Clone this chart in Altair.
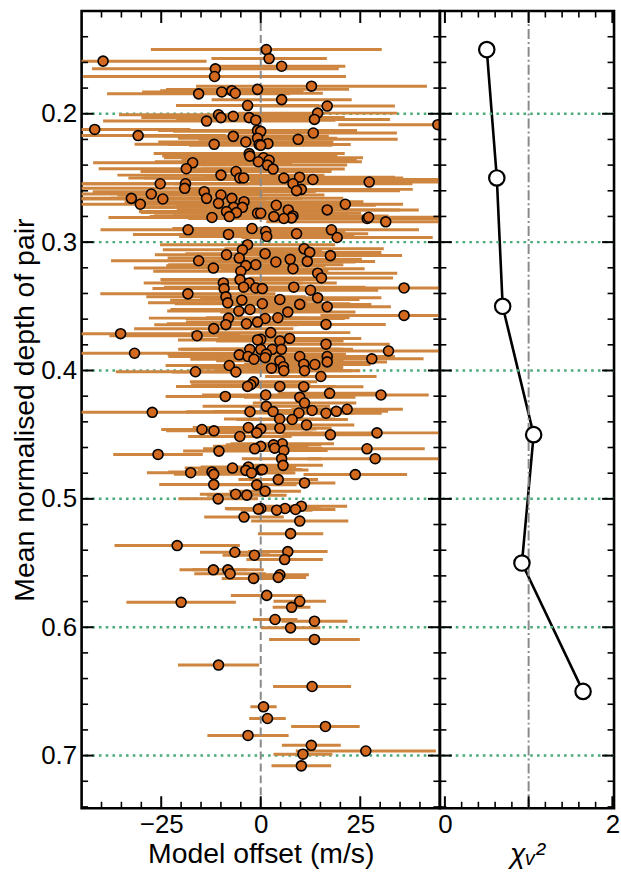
import altair as alt
import pandas as pd

# ---------------- data ----------------
offset = [
    1.4, 2.1, -39.6, 5.25, -11.4, -11.6, 12.75, -0.8, -9.8, -7.25,
    -6.4, -15.6, 5.25, -3.3, 16.7, 14.3, -10.6, -10.0, -6.9, -2.9,
    -1.25, 13.5, -13.6, 44.5, -41.7, 13.2, -0.8, 0.0, -30.8, -6.9,
    9.4, -0.8, -3.75, -11.7, -0.4, 1.8, 0.0, -2.9, -2.75, 0.7,
    2.1, -0.6, -17.1, 1.7, -18.7, 3.1, -6.2, -10.0, -5.25, -4.3,
    9.75, 5.8, 13.1, 27.25, -25.25, -18.9, 8.1, -19.1, 10.2, 9.0,
    -14.2, -27.5, -10.0, -32.5, -13.6, -7.25, -24.6, -4.2, -10.6, -30.25,
    21.25, 3.9, -6.8, -4.6, 16.7, 6.9, -8.6, -6.1, -0.8, 0.0,
    8.1, -7.9, 3.3, -12.25, 7.75, 26.75, 5.8, 27.1, 31.4, -2.2,
    -18.25, 17.75, 1.25, 9.0, -8.1, 1.5, 19.2, -3.3, 10.9, -4.6,
    12.3, 1.1, -8.6, 17.5, -5.4, 7.4, -15.6, 11.7, 3.8, -1.25,
    -3.75, -11.9, 8.1, -5.0, 14.3, 15.25, -5.2, -9.4, -2.9, 8.3,
    -4.3, 36.0, -1.25, 0.4, -9.2, 12.5, -18.3, -8.75, 14.3, 4.8,
    -4.75, -8.3, 0.4, 9.8, 16.7, -2.7, -5.5, 6.8, 36.0, 4.3,
    -8.1, 1.1, -0.8, -3.6, 16.4, -8.75, -11.8, 2.5, -35.2, -16.0,
    7.25, 0.0, -0.8, 4.8, 16.4, -2.75, 0.0, 2.9, 5.2, 32.1,
    -31.7, 1.4, -5.4, -3.2, 9.8, 16.7, 1.1, 27.9, -1.7, 4.8,
    16.7, 10.8, 13.6, -7.9, 5.7, 2.7, 5.8, 11.0, -16.4, -6.25,
    15.1, -1.8, -2.5, -3.3, 4.8, 10.8, 17.3, 1.25, 30.2, -8.9,
    9.8, 11.0, 1.4, 21.7, 3.1, -2.7, -27.25, 9.6, 12.9, 16.4,
    19.0, 4.75, 7.9, 11.5, -3.1, 4.8, 0.0, -14.75, -11.75, 29.2,
    -1.0, 17.5, -5.25, 5.4, 3.2, 0.0, 3.5, -1.5, 26.7, 5.8,
    -10.5, -25.8, 28.75, 5.25, 5.6, -3.1, 0.0, 0.4, -7.1, -3.75,
    -12.25, -17.6, -2.3, -11.8, 23.75, 4.4, 11.0, -11.8, -1.0, 1.1,
    -6.3, -3.5, -10.7, 10.2, 6.1, 0.0, -0.6, 8.75, 4.0, -4.2,
    9.8, 7.5, -21.0, 6.8, -6.5, -1.6, 6.0, -11.9, -8.25, -7.7,
    4.8, 4.4, -1.8, 1.5, 9.8, -20.0, 7.75, 3.6, 13.5, 7.5,
    13.5, -10.6, 12.9, 0.7, 1.7, 16.25, -3.2, 12.7, 26.4, 10.6,
    10.2,
]

depth = [
    0.150, 0.157, 0.159, 0.163, 0.165, 0.171, 0.1785, 0.181, 0.183, 0.182,
    0.184, 0.1845, 0.189, 0.1936, 0.194, 0.1995, 0.2008, 0.203, 0.202, 0.203,
    0.205, 0.2044, 0.2057, 0.2085, 0.2122, 0.215, 0.213, 0.2137, 0.217, 0.2176,
    0.2199, 0.219, 0.222, 0.2238, 0.224, 0.2233, 0.2246, 0.231, 0.233, 0.2343,
    0.2362, 0.2374, 0.2382, 0.240, 0.2428, 0.2431, 0.245, 0.2478, 0.250, 0.250,
    0.2494, 0.2501, 0.2512, 0.2532, 0.2545, 0.2545, 0.2545, 0.2581, 0.2589, 0.2599,
    0.2607, 0.2625, 0.2633, 0.2659, 0.2659, 0.2659, 0.2664, 0.2685, 0.2698, 0.2705,
    0.2705, 0.2713, 0.2729, 0.2729, 0.2749, 0.2749, 0.2762, 0.277, 0.2775, 0.2775,
    0.2796, 0.2801, 0.2801, 0.2808, 0.2811, 0.2816, 0.2816, 0.2806, 0.2842, 0.2894,
    0.2904, 0.2904, 0.2917, 0.2935, 0.294, 0.2956, 0.2964, 0.302, 0.3052, 0.306,
    0.308, 0.309, 0.3098, 0.3105, 0.3124, 0.3134, 0.3145, 0.315, 0.3155, 0.3176,
    0.3183, 0.3202, 0.3207, 0.3227, 0.3242, 0.3279, 0.3292, 0.3318, 0.3318, 0.3351,
    0.3351, 0.3357, 0.3357, 0.3362, 0.3362, 0.3375, 0.3403, 0.3426, 0.3434, 0.3447,
    0.3452, 0.3473, 0.348, 0.3485, 0.3504, 0.3525, 0.3537, 0.3545, 0.3571, 0.3589,
    0.3592, 0.3595, 0.3623, 0.3636, 0.3641, 0.3643, 0.3674, 0.3705, 0.3713, 0.3729,
    0.375, 0.3757, 0.3762, 0.377, 0.3795, 0.3835, 0.3835, 0.3835, 0.3835, 0.3848,
    0.3866, 0.3873, 0.3878, 0.3891, 0.3891, 0.3891, 0.390, 0.3909, 0.3912, 0.3925,
    0.3933, 0.3951, 0.3953, 0.3961, 0.3971, 0.3982, 0.4002, 0.4002, 0.401, 0.4012,
    0.4047, 0.4088, 0.4111, 0.4124, 0.4124, 0.4126, 0.4178, 0.4191, 0.4191, 0.4202,
    0.4209, 0.4253, 0.4279, 0.4302, 0.432, 0.4321, 0.4326, 0.4331, 0.4312, 0.4333,
    0.4318, 0.4378, 0.4382, 0.4424, 0.4444, 0.445, 0.4455, 0.446, 0.447, 0.4486,
    0.4486, 0.4501, 0.4514, 0.4571, 0.4579, 0.4591, 0.4605, 0.461, 0.461, 0.4623,
    0.4628, 0.4654, 0.4687, 0.4687, 0.4739, 0.4752, 0.4775, 0.4772, 0.476, 0.4778,
    0.479, 0.4796, 0.4798, 0.4809, 0.4811, 0.485, 0.4876, 0.4889, 0.4891, 0.494,
    0.4964, 0.4971, 0.500, 0.5057, 0.5075, 0.5075, 0.508, 0.5083, 0.5088, 0.5142,
    0.5173, 0.5271, 0.5364, 0.5411, 0.5416, 0.5439, 0.5473, 0.5553, 0.5553, 0.5583,
    0.5591, 0.5612, 0.562, 0.5752, 0.5798, 0.5806, 0.5845, 0.594, 0.5953, 0.6005,
    0.6095, 0.6295, 0.6462, 0.662, 0.6711, 0.6773, 0.6843, 0.692, 0.6964, 0.6989,
    0.708,
]

err = [
    29, 14.5, 26, 16, 31, 33, 29, 23, 20, 18,
    22, 23, 17.6, 18, 17, 20, 25, 20, 22, 24,
    20, 19, 26, 25, 24, 21, 25, 22, 22, 24,
    25, 20, 22, 20, 23, 16, 18, 24, 22, 25,
    22, 26, 25, 20, 22, 18, 24, 26, 28, 25,
    24, 30, 32, 30, 22, 26, 30, 30, 28, 26,
    28, 28, 26, 25, 24, 28, 26, 30, 22, 24,
    14.5, 25, 24, 26, 23, 28, 22, 24, 26, 22,
    24, 20, 22, 26, 25, 26, 24, 20, 30, 20,
    22, 22, 20, 18, 24, 22, 24, 22, 20, 20,
    18, 20, 18, 18, 18, 18, 22, 17, 20, 22,
    20, 20, 18, 22, 20, 18, 20, 20, 22, 18,
    20, 28, 22, 20, 18, 17, 22, 20, 16, 20,
    18, 20, 22, 18, 16, 20, 18, 17, 21, 18,
    20, 20, 18, 20, 15, 18, 20, 20, 30, 22,
    18, 16, 20, 16, 16, 18, 20, 18, 18, 27,
    31, 20, 18, 20, 16, 17, 18, 13, 16, 16,
    15, 15, 14, 16, 15, 18, 17, 14, 20, 16,
    14, 16, 15, 18, 14, 15, 13, 16, 12, 15,
    14, 13, 16, 14, 15, 16, 27, 14, 13, 14,
    13, 14, 14, 12, 14, 13, 14, 10.25, 12, 19,
    14, 12, 13, 13, 12, 12, 12, 13, 14.5, 11,
    9, 11.25, 17, 10, 10, 12, 12, 10, 12, 12,
    11, 11, 11, 10, 13, 10, 7.75, 13.7, 10, 9,
    9, 10, 10, 11.5, 9, 9, 8, 10, 9, 10,
    12.2, 8.2, 15.75, 10, 8.75, 8, 9.6, 8.5, 9, 9,
    7.3, 7, 8, 9, 6.6, 13.75, 4.75, 5.6, 8.3, 7.5,
    11.4, 10.2, 9.8, 3.3, 4.6, 8.6, 10.2, 7.4, 17.6, 7.4,
    7.5,
]

chi_depth = [0.15, 0.25, 0.35, 0.45, 0.55, 0.65]
chi_value = [0.50, 0.62, 0.69, 1.06, 0.92, 1.65]

grid_depth = [0.2, 0.3, 0.4, 0.5, 0.6, 0.7]
y_minor = [0.12, 0.14, 0.16, 0.18, 0.22, 0.24, 0.26, 0.28, 0.32, 0.34, 0.36,
           0.38, 0.42, 0.44, 0.46, 0.48, 0.52, 0.54, 0.56, 0.58, 0.62, 0.64,
           0.66, 0.68, 0.72, 0.74]
xl_major = [-25, 0, 25]
xl_minor = [-40, -35, -30, -20, -15, -10, -5, 5, 10, 15, 20, 30, 35, 40]
xr_major = [0, 1, 2]
xr_minor = [0.2, 0.4, 0.6, 0.8, 1.2, 1.4, 1.6, 1.8]

# ---------------- layout / style ----------------
LW, RW, H = 360, 175, 801
FONT = "Liberation Sans"
LBL, TTL = 26, 28.5
BAR = "#CD853F"
DOT = "#D2691E"
GREEN = "#4aab7a"
MAJ, MIN = 12, 6.5
U = alt.Undefined

ysc = alt.Scale(domain=[0.12, 0.741], reverse=True, nice=False, zero=False)
xls = alt.Scale(domain=[-45, 45], nice=False, zero=False)
xrs = alt.Scale(domain=[-0.06, 2.02], nice=False, zero=False)

pts = pd.DataFrame({"depth": depth, "offset": offset, "err": err})
pts["lo"] = pts["offset"] - pts["err"]
pts["hi"] = pts["offset"] + pts["err"]
chi = pd.DataFrame({"depth": chi_depth, "chi": chi_value})


def yticks(vals, W, length, sw, yax):
    df = pd.DataFrame({"v": vals})
    y = alt.Y("v:Q", scale=ysc, axis=yax)
    left = alt.Chart(df).mark_rule(color="black", strokeWidth=sw).encode(
        y=y, x=alt.value(0), x2=alt.value(length))
    right = alt.Chart(df).mark_rule(color="black", strokeWidth=sw).encode(
        y=y, x=alt.value(W - length), x2=alt.value(W))
    return [left, right]


def xticks(vals, sc, length, sw):
    df = pd.DataFrame({"v": vals})
    x = alt.X("v:Q", scale=sc)
    top = alt.Chart(df).mark_rule(color="black", strokeWidth=sw).encode(
        x=x, y=alt.value(0), y2=alt.value(length))
    bot = alt.Chart(df).mark_rule(color="black", strokeWidth=sw).encode(
        x=x, y=alt.value(H - length), y2=alt.value(H))
    return [top, bot]


grid_df = pd.DataFrame({"g": grid_depth})


def grid(yax):
    return alt.Chart(grid_df).mark_rule(
        color=GREEN, strokeWidth=2.5, strokeDash=[2.6, 4.2]
    ).encode(y=alt.Y("g:Q", scale=ysc, axis=yax))


# ---------------- left panel ----------------
dots = alt.Chart(pts).mark_circle(
    color=DOT, opacity=1, size=100, stroke="black", strokeWidth=1.6, clip=True
).encode(
    x=alt.X("offset:Q", scale=xls,
            axis=alt.Axis(values=xl_major, format="d", ticks=False, domain=False,
                          grid=False, labelPadding=3, titlePadding=3,
                          title="Model offset (m/s)")),
    y=alt.Y("depth:Q", scale=ysc,
            axis=alt.Axis(values=grid_depth, format=".1f", ticks=False,
                          domain=False, grid=False, labelPadding=5,
                          titlePadding=1,
                          title="Mean normalised depth of pair")),
)
bars = alt.Chart(pts).mark_rule(color=BAR, strokeWidth=3, clip=True).encode(
    x=alt.X("lo:Q", scale=xls),
    x2="hi:Q",
    y=alt.Y("depth:Q", scale=ysc),
)
zero = alt.Chart(pd.DataFrame({"z": [0]})).mark_rule(
    color="#8a8a8a", strokeWidth=2, strokeDash=[8, 4]
).encode(x=alt.X("z:Q", scale=xls))

left = alt.layer(
    grid(U), bars, zero, dots,
    *yticks(grid_depth, LW, MAJ, 2, U), *yticks(y_minor, LW, MIN, 1.6, U),
    *xticks(xl_major, xls, MAJ, 2), *xticks(xl_minor, xls, MIN, 1.6),
).properties(width=LW, height=H)

# ---------------- right panel ----------------
one = alt.Chart(pd.DataFrame({"c": [1]})).mark_rule(
    color="#8a8a8a", strokeWidth=2, strokeDash=[10, 3, 2, 3]
).encode(x=alt.X("c:Q", scale=xrs))
line = alt.Chart(chi).mark_line(color="black", strokeWidth=2.6).encode(
    x=alt.X("chi:Q", scale=xrs,
            axis=alt.Axis(values=xr_major, format="d", ticks=False, domain=False,
                          grid=False, labelPadding=3, titlePadding=3,
                          title="χᵥ²", titleFontStyle="italic")),
    y=alt.Y("depth:Q", scale=ysc, axis=None),
    order=alt.Order("depth:Q"),
)
circles = alt.Chart(chi).mark_point(
    shape="circle", filled=True, fill="white", stroke="black", strokeWidth=2.2,
    size=240, opacity=1
).encode(
    x=alt.X("chi:Q", scale=xrs),
    y=alt.Y("depth:Q", scale=ysc, axis=None),
)
right = alt.layer(
    line, grid(None), one, circles,
    *yticks(grid_depth, RW, MAJ, 2, None), *yticks(y_minor, RW, MIN, 1.6, None),
    *xticks(xr_major, xrs, MAJ, 2), *xticks(xr_minor, xrs, MIN, 1.6),
).properties(width=RW, height=H)

chart = alt.hconcat(left, right, spacing=0, bounds="flush").properties(
    padding={"left": 9, "top": 6, "right": 0, "bottom": 7},
    background="white",
).configure(
    font=FONT,
).configure_view(
    stroke="black", strokeWidth=2.6
).configure_axis(
    labelFont=FONT, titleFont=FONT, labelFontSize=LBL, titleFontSize=TTL,
    labelColor="black", titleColor="black", titleFontWeight="normal",
    grid=False, ticks=False, domain=False,
)

chart.save("out.html", embed_options={"renderer": "svg", "actions": False})
